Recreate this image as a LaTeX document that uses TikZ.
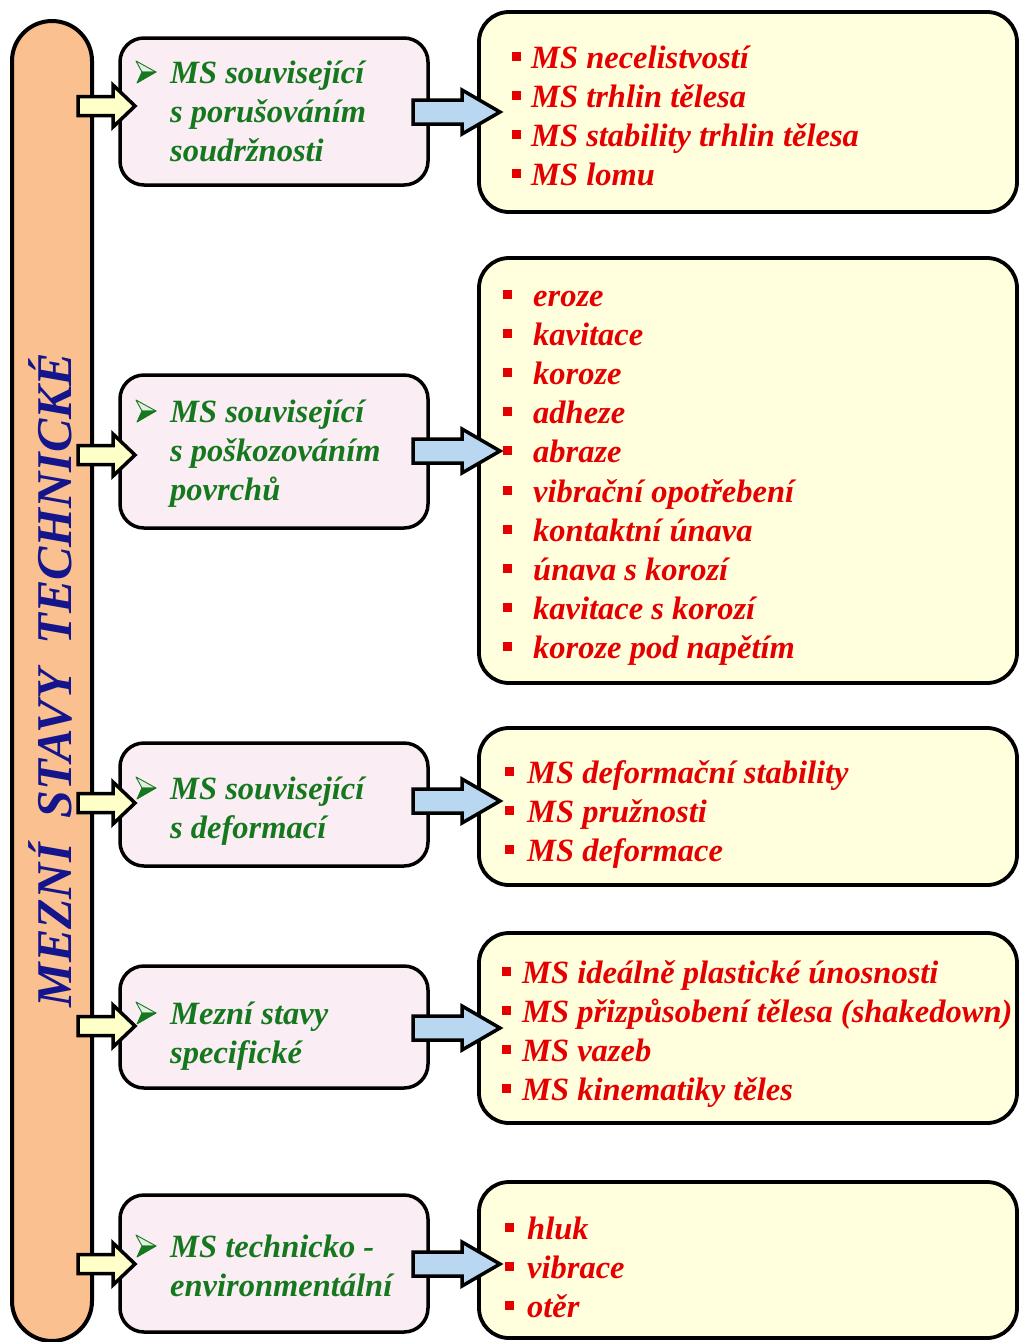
\documentclass[tikz,border=0pt]{standalone}
\usepackage{fontspec}
\setmainfont{Liberation Serif}
\usetikzlibrary{calc}

\definecolor{barfill}{RGB}{250,192,144}
\definecolor{pinkfill}{RGB}{250,238,244}
\definecolor{creamfill}{RGB}{255,255,222}
\definecolor{yarrowfill}{RGB}{255,255,200}
\definecolor{barrowfill}{RGB}{185,215,240}
\definecolor{leafgreen}{RGB}{22,120,30}
\definecolor{listred}{RGB}{228,0,0}
\definecolor{titlenavy}{RGB}{20,20,140}

% block arrow: style, tail, tip, shaft half height, head half height, head length
\newcommand\blockarrow[6]{%
  \draw[#1] ($(#2)+(0,-#4)$) -- ($(#3)+(-#6,-#4)$) -- ($(#3)+(-#6,-#5)$) -- (#3)
    -- ($(#3)+(-#6,#5)$) -- ($(#3)+(-#6,#4)$) -- ($(#2)+(0,#4)$) -- cycle;}

% bulleted red list: name, bullet x, text x, first baseline, items
\newcommand\redlist[5]{%
  \foreach \t [count=\i from 0] in {#5} {
    \node[rtxt] (#1-\i) at (#3, #4+39.2*\i) {\t};
    \fill[listred] (#2-4.5, #4+39.2*\i-16.5) rectangle ++(9,9);
  }}

\begin{document}
\begin{tikzpicture}[x=1pt,y=-1pt,
  bigbar/.style={draw, line width=4, fill=barfill, rounded corners=40,
    minimum width=80, inner sep=0},
  pbox/.style={draw, line width=3.5, fill=pinkfill, rounded corners=24,
    minimum width=308, inner sep=0},
  ybox/.style={draw, line width=3.8, fill=creamfill, rounded corners=30,
    minimum width=538, inner sep=0},
  yarrow/.style={draw, line width=3.5, fill=yarrowfill, line join=miter},
  barrow/.style={draw, line width=3.5, fill=barrowfill, line join=miter},
  gtxt/.style={font=\fontsize{32.5}{39}\selectfont\bfseries\itshape,
    text=leafgreen, anchor=base west, inner sep=0},
  rtxt/.style={font=\fontsize{32.5}{39}\selectfont\bfseries\itshape,
    text=listred, anchor=base west, inner sep=0},
  ttl/.style={font=\fontsize{50}{52}\selectfont\bfseries\itshape,
    text=titlenavy, rotate=90, anchor=base, inner sep=0},
  pics/leaf/.style={code={
    \filldraw[fill=leafgreen!12!white, draw=leafgreen, line width=0.9,
      line join=round] (-10,-11) -- (10,0) -- (-4,0) -- cycle;
    \filldraw[fill=leafgreen, draw=leafgreen, line width=0.9,
      line join=round] (-4,0) -- (10,0) -- (-9,11) -- cycle;
  }}]
\useasboundingbox (0,0) rectangle (1021,1342);

% vertical bar with the title
\node[bigbar, minimum height=1320] (bar) at (52,681) {};
\node[ttl] (title) at (71,680) {MEZNÍ\ \ STAVY\ \ TECHNICKÉ};

% category boxes
\node[pbox, minimum height=147] (p1) at (274,111.5) {};
\node[pbox, minimum height=153] (p2) at (274,451.5) {};
\node[pbox, minimum height=123] (p3) at (274,804.5) {};
\node[pbox, minimum height=122] (p4) at (274,1027) {};
\node[pbox, minimum height=137] (p5) at (274,1263.5) {};

% list boxes
\node[ybox, minimum height=200] (l1) at (748,112) {};
\node[ybox, minimum height=425] (l2) at (748,470.5) {};
\node[ybox, minimum height=157] (l3) at (748,806.5) {};
\node[ybox, minimum height=190] (l4) at (748,1028) {};
\node[ybox, minimum height=156] (l5) at (748,1260) {};

% arrow ends
\coordinate (ya1) at (78,106);   \coordinate (yb1) at (135,106);
\coordinate (ya2) at (78,455);   \coordinate (yb2) at (135,455);
\coordinate (ya3) at (78,803);   \coordinate (yb3) at (135,803);
\coordinate (ya4) at (78,1026);  \coordinate (yb4) at (135,1026);
\coordinate (ya5) at (78,1264);  \coordinate (yb5) at (135,1264);
\coordinate (ba1) at (413,112);  \coordinate (bb1) at (500,112);
\coordinate (ba2) at (413,451);  \coordinate (bb2) at (500,451);
\coordinate (ba3) at (413,801);  \coordinate (bb3) at (500,801);
\coordinate (ba4) at (413,1028); \coordinate (bb4) at (500,1028);
\coordinate (ba5) at (413,1264); \coordinate (bb5) at (500,1264);

\foreach \k in {1,...,5} {
  \blockarrow{yarrow}{ya\k}{yb\k}{9.5}{21}{22}
  \blockarrow{barrow}{ba\k}{bb\k}{12}{22}{38}
}

% category texts
\pic at (146,72) {leaf};
\node[gtxt] (g1a) at (170,83)  {MS související};
\node[gtxt] (g1b) at (170,122) {s porušováním};
\node[gtxt] (g1c) at (170,161) {soudržnosti};

\pic at (146,411) {leaf};
\node[gtxt] (g2a) at (170,422) {MS související};
\node[gtxt] (g2b) at (170,461) {s poškozováním};
\node[gtxt] (g2c) at (170,500) {povrchů};

\pic at (146,788) {leaf};
\node[gtxt] (g3a) at (170,799) {MS související};
\node[gtxt] (g3b) at (170,838) {s deformací};

\pic at (146,1013) {leaf};
\node[gtxt] (g4a) at (170,1024) {Mezní stavy};
\node[gtxt] (g4b) at (170,1063) {specifické};

\pic at (146,1246) {leaf};
\node[gtxt] (g5a) at (170,1257) {MS technicko -};
\node[gtxt] (g5b) at (170,1296) {environmentální};

% lists
\redlist{r1}{516}{531}{68}{MS necelistvostí, MS trhlin tělesa,
  MS stability trhlin tělesa, MS lomu}
\redlist{r2}{507}{533}{306}{eroze, kavitace, koroze, adheze, abraze,
  vibrační opotřebení, kontaktní únava, únava s korozí,
  kavitace s korozí, koroze pod napětím}
\redlist{r3}{509}{527}{783}{MS deformační stability, MS pružnosti,
  MS deformace}
\redlist{r4}{506}{522}{983}{MS ideálně plastické únosnosti,
  MS přizpůsobení tělesa (shakedown), MS vazeb, MS kinematiky těles}
\redlist{r5}{509}{527}{1239}{hluk, vibrace, otěr}
\end{tikzpicture}
\end{document}
